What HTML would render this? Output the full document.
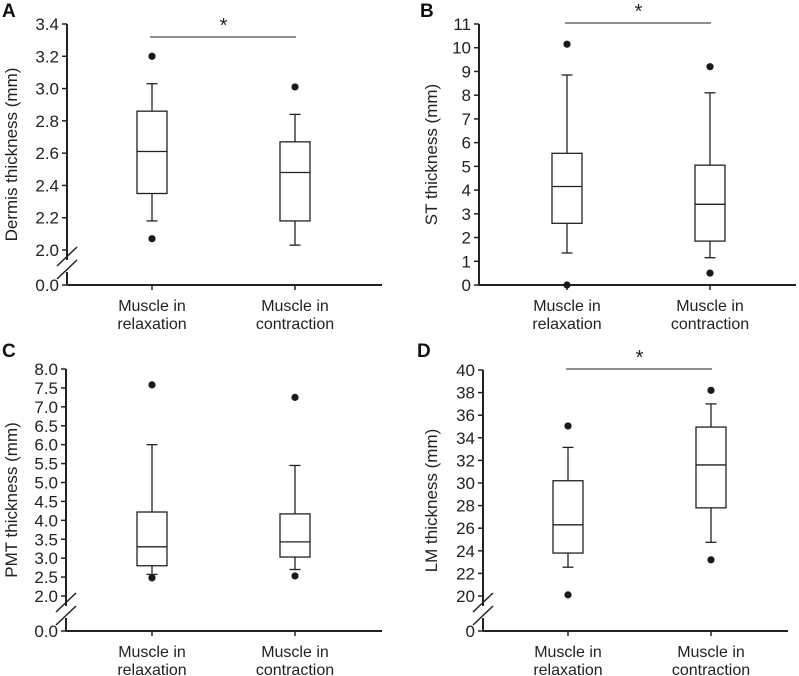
<!DOCTYPE html>
<html><head><meta charset="utf-8"><style>
html,body{margin:0;padding:0;background:#fff;}
svg{display:block;font-family:"Liberation Sans",Arial,sans-serif;}
</style></head><body>
<svg id="fig" width="799" height="676" viewBox="0 0 799 676"></svg>
<script>
const categories = ["Muscle in relaxation", "Muscle in contraction"];
// [whiskerLow, Q1, median, Q3, whiskerHigh]
const statsA = [[2.18, 2.35, 2.61, 2.86, 3.03], [2.03, 2.18, 2.48, 2.67, 2.84]];
const outliersA = [[3.2, 2.07], [3.01]];
const ticksA = ["2.0","2.2","2.4","2.6","2.8","3.0","3.2","3.4"];
const statsB = [[1.35, 2.6, 4.15, 5.55, 8.85], [1.15, 1.85, 3.4, 5.05, 8.1]];
const outliersB = [[10.15, 0.0], [9.2, 0.5]];
const ticksB = ["0","1","2","3","4","5","6","7","8","9","10","11"];
const statsC = [[2.57, 2.8, 3.3, 4.22, 6.0], [2.7, 3.03, 3.43, 4.17, 5.45]];
const outliersC = [[7.58, 2.48], [7.25, 2.53]];
const ticksC = ["2.0","2.5","3.0","3.5","4.0","4.5","5.0","5.5","6.0","6.5","7.0","7.5","8.0"];
const statsD = [[22.55, 23.8, 26.3, 30.2, 33.15], [24.75, 27.8, 31.6, 34.95, 37.0]];
const outliersD = [[35.05, 20.1], [38.2, 23.2]];
const ticksD = ["20","22","24","26","28","30","32","34","36","38","40"];

const NS = "http://www.w3.org/2000/svg";
const svg = document.getElementById("fig");
const C = "#222";
function mk(tag, attrs, parent) {
  const e = document.createElementNS(NS, tag);
  for (const k in attrs) e.setAttribute(k, attrs[k]);
  (parent || svg).appendChild(e);
  return e;
}
function line(g, x1, y1, x2, y2, w) {
  return mk("line", {x1, y1, x2, y2, stroke: C, "stroke-width": w || 1.3}, g);
}

function panel(p) {
  const g = mk("g", {});
  
  
  const min = parseFloat(p.ticks[0]), max = parseFloat(p.ticks[p.ticks.length - 1]);
  const y = v => p.yMin + (max - v) / (max - min) * (p.yBase - p.yMin);
  const xs = [p.cx1, p.cx2];
  const L = mk("text", {x: p.lx, y: p.ly, "font-size": 19, "font-weight": "bold", fill: "#111"}, g);
  L.textContent = p.letter;
  
  
  const yAxisEnd = p.brk ? p.yZero : p.yBase;
  if (p.brk) {
    line(g, p.ax, p.yMin, p.ax, p.yBase + 10, 2);
    line(g, p.ax, p.yBase + 22, p.ax, p.yZero, 2);
    line(g, p.ax - 10, p.yBase + 16, p.ax + 10, p.yBase - 3, 1.5);
    line(g, p.ax - 10, p.yBase + 29, p.ax + 10, p.yBase + 10, 1.5);
    line(g, p.ax - 5, p.yZero, p.ax, p.yZero, 1.5);
    const t0 = mk("text", {x: p.ax - 8, y: p.yZero + 6, "font-size": 17, fill: C, "text-anchor": "end"}, g);
    t0.textContent = p.zeroLabel;
    
    
  } else {
    line(g, p.ax, p.yMin, p.ax, p.yBase, 2);
  }
  const xAx = line(g, p.ax, yAxisEnd, p.axEnd, yAxisEnd, 2);
  
  
  p.ticks.forEach(t => {
    const v = parseFloat(t), yy = y(v);
    line(g, p.ax - 5, yy, p.ax, yy, 1.5);
    const tx = mk("text", {x: p.ax - 8, y: yy + 6, "font-size": 17, fill: C, "text-anchor": "end"}, g);
    tx.textContent = t;
    
    
  });
  const yc = (p.yMin + yAxisEnd) / 2;
  const yt = mk("text", {x: p.ytx, y: yc, "font-size": 17, fill: C, "text-anchor": "middle", transform: `rotate(-90 ${p.ytx} ${yc})`}, g);
  yt.textContent = p.ytitle;
  
  
  categories.forEach((c, i) => {
    line(g, xs[i], yAxisEnd, xs[i], yAxisEnd + 5, 1.5);
    const parts = [c.slice(0, 9), c.slice(10)];
    parts.forEach((s, j) => {
      const t = mk("text", {x: xs[i], y: yAxisEnd + 26 + j * 18, "font-size": 16, fill: C, "text-anchor": "middle"}, g);
      t.textContent = s;
      
      
    });
  });
  p.stats.forEach((s, i) => {
    const cx = xs[i], hw = 15, cw = 5.5;
    const bg = mk("g", {}, g);
    
    
    line(bg, cx, y(s[4]), cx, y(s[3]));
    line(bg, cx, y(s[1]), cx, y(s[0]));
    line(bg, cx - cw, y(s[4]), cx + cw, y(s[4]));
    line(bg, cx - cw, y(s[0]), cx + cw, y(s[0]));
    mk("rect", {x: cx - hw, y: y(s[3]), width: 2 * hw, height: y(s[1]) - y(s[3]), fill: "#fff", stroke: C, "stroke-width": 1.3}, bg);
    line(bg, cx - hw, y(s[2]), cx + hw, y(s[2]));
    p.out[i].forEach(o => {
      const d = mk("circle", {cx, cy: y(o), r: 3.6, fill: "#1a1a1a"}, bg);
      
      
    });
  });
  if (p.sigY) {
    const sl = line(g, xs[0] - 2, p.sigY, xs[1] + 1, p.sigY, 1);
    
    
    const st = mk("text", {x: (xs[0] + xs[1]) / 2, y: p.sigY - 5, "font-size": 20, fill: C, "text-anchor": "middle"}, g);
    st.textContent = "*";
    
    
  }
}

panel({letter:"A", lx:2, ly:17, ax:67, axEnd:382, yMin:24, yBase:250, yZero:285, brk:true, zeroLabel:"0.0",
  ticks:ticksA, stats:statsA, out:outliersA, cx1:152, cx2:295, ytx:17, ytitle:"Dermis  thickness (mm)", sigY:37});
panel({letter:"B", lx:420, ly:17, ax:479, axEnd:796, yMin:24, yBase:285, brk:false,
  ticks:ticksB, stats:statsB, out:outliersB, cx1:567, cx2:710, ytx:437, ytitle:"ST thickness (mm)", sigY:23});
panel({letter:"C", lx:2, ly:357, ax:66, axEnd:382, yMin:369, yBase:596, yZero:631, brk:true, zeroLabel:"0.0",
  ticks:ticksC, stats:statsC, out:outliersC, cx1:152, cx2:295, ytx:17, ytitle:"PMT thickness (mm)", sigY:0});
panel({letter:"D", lx:417, ly:357, ax:483, axEnd:788, yMin:370, yBase:596, yZero:631, brk:true, zeroLabel:"0",
  ticks:ticksD, stats:statsD, out:outliersD, cx1:568, cx2:711, ytx:437, ytitle:"LM  thickness (mm)", sigY:369});
</script>
</body></html>
